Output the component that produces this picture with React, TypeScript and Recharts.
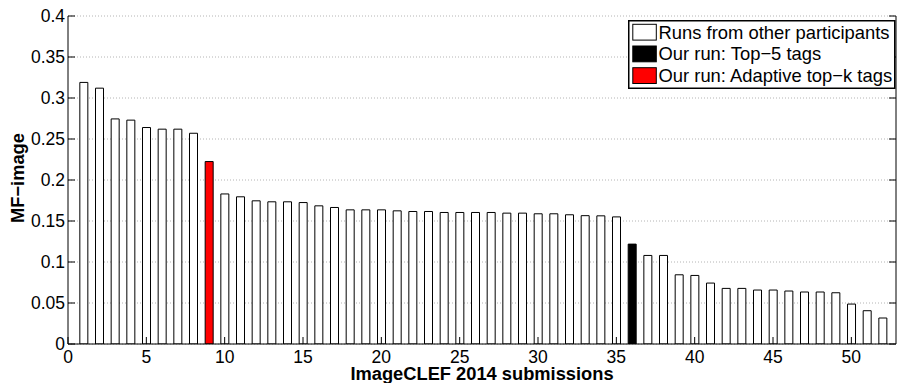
import React from 'react';
import { ComposedChart, Bar, Line, Cell, XAxis, YAxis, CartesianGrid, Legend, Label } from 'recharts';

const submissions = [
  1, 2, 3, 4, 5, 6, 7, 8, 9, 10, 11, 12, 13, 14, 15, 16, 17, 18, 19, 20,
  21, 22, 23, 24, 25, 26, 27, 28, 29, 30, 31, 32, 33, 34, 35, 36, 37, 38, 39, 40,
  41, 42, 43, 44, 45, 46, 47, 48, 49, 50, 51, 52,
];

const scores = [
  0.319, 0.312, 0.2745, 0.273, 0.264, 0.262, 0.262, 0.257, 0.2225, 0.183,
  0.1795, 0.1746, 0.1734, 0.1734, 0.1725, 0.1685, 0.1665, 0.1636, 0.1636, 0.1636,
  0.1624, 0.1616, 0.1616, 0.1604, 0.1604, 0.1604, 0.1604, 0.1596, 0.1596, 0.1588,
  0.1588, 0.1576, 0.1565, 0.1563, 0.155, 0.1218, 0.108, 0.108, 0.0844, 0.0836,
  0.0743, 0.0678, 0.0678, 0.0658, 0.0658, 0.0646, 0.0634, 0.0634, 0.0625, 0.0487,
  0.0406, 0.0317,
];

const top5Run = 36;
const adaptiveRun = 9;

const seriesNames = ['Runs from other participants', 'Our run: Top\u22125 tags', 'Our run: Adaptive top\u2212k tags'];
const seriesColors = ['#ffffff', '#000000', '#ff0000'];

const xTicks = [0, 5, 10, 15, 20, 25, 30, 35, 40, 45, 50];
const yTicks = [0, 0.05, 0.1, 0.15, 0.2, 0.25, 0.3, 0.35, 0.4];

const xTitle = 'ImageCLEF 2014 submissions';
const yTitle = 'MF\u2212image';

const data = submissions.map((s, i) => ({ run: s, score: scores[i] }));

const FONT = "'Liberation Sans', Arial, Helvetica, sans-serif";
const TICK_LEN = 7;
const TICK_FS = 17.5;

const colorFor = (run: number) =>
  run === top5Run ? seriesColors[1] : run === adaptiveRun ? seriesColors[2] : seriesColors[0];

const BottomTick = (props: any) => {
  const { x, y, payload } = props;
  return (
    <g>
      <line x1={x} x2={x} y1={y} y2={y - TICK_LEN} stroke="#000" strokeWidth={1} />
      <text x={x} y={y + 19} textAnchor="middle" fontFamily={FONT} fontSize={TICK_FS} fill="#000">
        {String(payload.value)}
      </text>
    </g>
  );
};

const TopTick = (props: any) => {
  const { x, y } = props;
  return <line x1={x} x2={x} y1={y} y2={y + TICK_LEN} stroke="#000" strokeWidth={1} />;
};

const LeftTick = (props: any) => {
  const { x, y, payload } = props;
  return (
    <g>
      <line x1={x} x2={x + TICK_LEN} y1={y} y2={y} stroke="#000" strokeWidth={1} />
      <text x={x - 3} y={y + 6.2} textAnchor="end" fontFamily={FONT} fontSize={TICK_FS} fill="#000">
        {String(payload.value)}
      </text>
    </g>
  );
};

const RightTick = (props: any) => {
  const { x, y } = props;
  return <line x1={x - TICK_LEN} x2={x} y1={y} y2={y} stroke="#000" strokeWidth={1} />;
};

const LegendBox = () => {
  const rowH = 21.7;
  return (
    <svg width={268} height={70} style={{ display: 'block' }}>
      <rect x={0.75} y={0.75} width={266} height={67.5} fill="#fff" stroke="#000" strokeWidth={1.5} />
      {seriesNames.map((name, i) => (
        <g key={name}>
          <rect
            x={4.8}
            y={4.3 + i * rowH}
            width={23.5}
            height={15.8}
            fill={seriesColors[i]}
            stroke="#000"
            strokeWidth={1}
          />
          <text x={30.5} y={18.6 + i * rowH} fontFamily={FONT} fontSize={18.4} fill="#000">
            {name}
          </text>
        </g>
      ))}
    </svg>
  );
};

export default function App() {
  return (
    <div style={{ position: 'absolute', left: 0, top: 0, width: 897, height: 383, background: '#fff' }}>
      <ComposedChart
        width={897}
        height={383}
        data={data}
        margin={{ top: 16, right: 0, bottom: 0, left: 0 }}
      >
        <CartesianGrid
          horizontal={true}
          vertical={false}
          stroke="#b4b4b4"
          strokeDasharray="1 2"
          yAxisId="left"
          xAxisId="bottom"
        />
        <XAxis
          xAxisId="bottom"
          dataKey="run"
          type="number"
          domain={[0, 52.85]}
          ticks={xTicks}
          interval={0}
          height={39}
          tickSize={0}
          tickMargin={0}
          tickLine={false}
          axisLine={{ stroke: '#000', strokeWidth: 1 }}
          tick={<BottomTick />}
          allowDataOverflow
        >
          <Label
            content={(p: any) => {
              const vb = p.viewBox || { x: 68, y: 344, width: 828 };
              return (
                <text
                  x={vb.x + vb.width / 2}
                  y={vb.y + 35.5}
                  textAnchor="middle"
                  fontFamily={FONT}
                  fontSize={18.3}
                  fontWeight="bold"
                  fill="#000"
                >
                  {xTitle}
                </text>
              );
            }}
          />
        </XAxis>
        <XAxis
          xAxisId="top"
          dataKey="run"
          type="number"
          orientation="top"
          domain={[0, 52.85]}
          ticks={xTicks}
          interval={0}
          height={0}
          tickSize={0}
          tickMargin={0}
          tickLine={false}
          axisLine={{ stroke: '#000', strokeWidth: 1 }}
          tick={<TopTick />}
          allowDataOverflow
        />
        <YAxis
          yAxisId="left"
          type="number"
          domain={[0, 0.4]}
          ticks={yTicks}
          interval={0}
          width={68}
          tickSize={0}
          tickMargin={0}
          tickLine={false}
          axisLine={{ stroke: '#000', strokeWidth: 1 }}
          tick={<LeftTick />}
          allowDataOverflow
        >
          <Label
            content={(p: any) => {
              const vb = p.viewBox || { x: 0, y: 16, width: 68, height: 328 };
              const cx = 24;
              const cy = vb.y + vb.height / 2 - 2;
              return (
                <text
                  x={cx}
                  y={cy}
                  transform={`rotate(-90 ${cx} ${cy})`}
                  textAnchor="middle"
                  fontFamily={FONT}
                  fontSize={18.3}
                  fontWeight="bold"
                  fill="#000"
                >
                  {yTitle}
                </text>
              );
            }}
          />
        </YAxis>
        <YAxis
          yAxisId="right"
          type="number"
          orientation="right"
          domain={[0, 0.4]}
          ticks={yTicks}
          interval={0}
          width={1}
          tickSize={0}
          tickMargin={0}
          tickLine={false}
          axisLine={{ stroke: '#000', strokeWidth: 1 }}
          tick={<RightTick />}
          allowDataOverflow
        />
        <Legend
          layout="vertical"
          align="center"
          verticalAlign="middle"
          wrapperStyle={{ left: 628, top: 20, width: 268, height: 70 }}
          content={() => <LegendBox />}
        />
        <Bar
          xAxisId="bottom"
          yAxisId="left"
          dataKey="score"
          barSize={8}
          stroke="#000"
          strokeWidth={1}
          isAnimationActive={false}
        >
          {data.map((d) => (
            <Cell key={d.run} fill={colorFor(d.run)} />
          ))}
        </Bar>
        <Line
          xAxisId="top"
          yAxisId="right"
          dataKey="score"
          stroke="none"
          dot={false}
          activeDot={false}
          legendType="none"
          isAnimationActive={false}
        />
      </ComposedChart>
    </div>
  );
}
